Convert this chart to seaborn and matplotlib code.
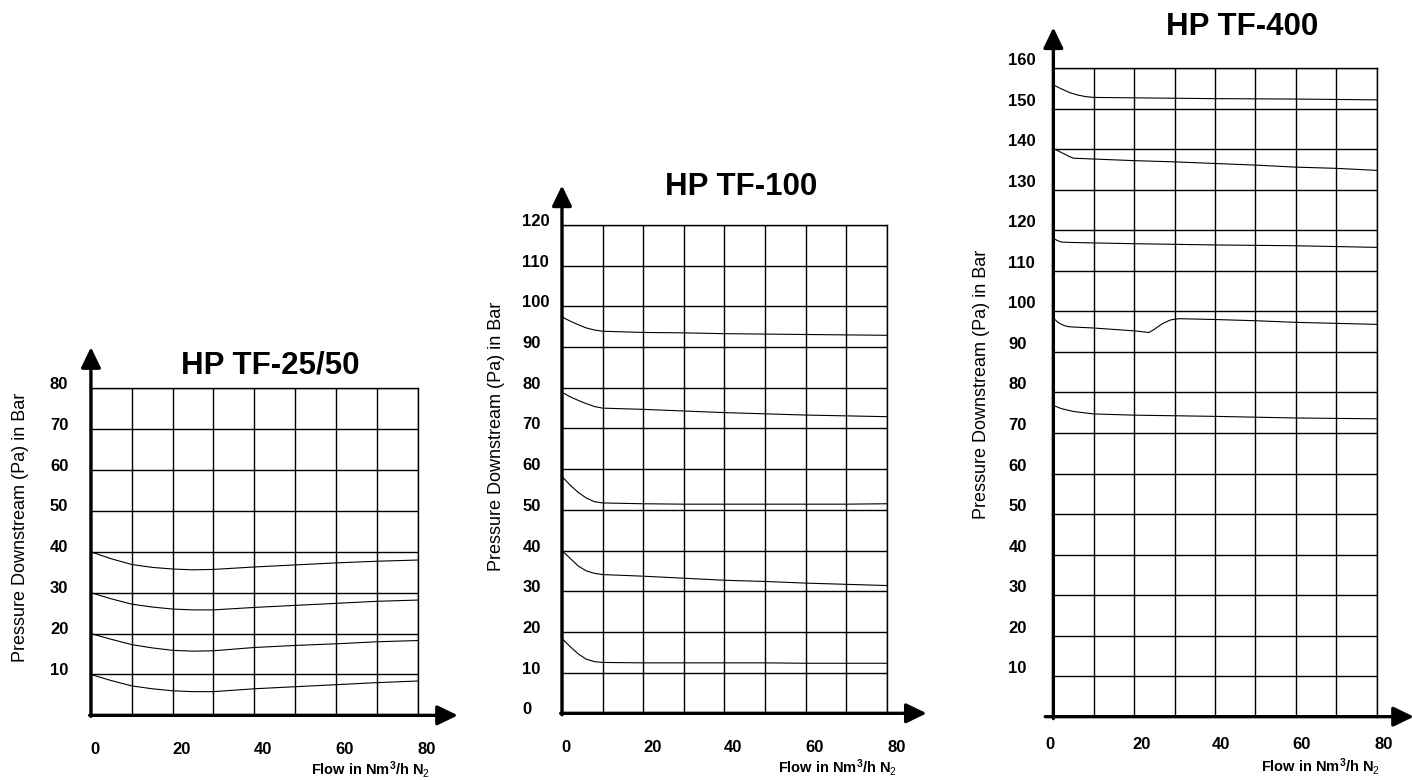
import numpy as np
import pandas as pd
import matplotlib
matplotlib.use("Agg")
import matplotlib.pyplot as plt
import seaborn as sns
from matplotlib.transforms import ScaledTranslation

# ---- data ----
# HP TF-25/50
tf25_flow = [0, 5, 10, 15, 20, 25, 30, 40, 50, 60, 70, 80]
tf25_p40 = [40.0, 38.3, 36.9, 36.2, 35.8, 35.6, 35.7, 36.3, 36.8, 37.3, 37.7, 38.0]
tf25_p30 = [30.0, 28.5, 27.2, 26.5, 26.0, 25.8, 25.8, 26.4, 26.9, 27.4, 27.9, 28.2]
tf25_p20 = [20.0, 18.6, 17.3, 16.5, 15.9, 15.7, 15.8, 16.6, 17.1, 17.5, 18.0, 18.3]
tf25_p10 = [10.0, 8.5, 7.2, 6.5, 6.0, 5.8, 5.8, 6.5, 7.0, 7.5, 8.0, 8.4]
tf25_yticks = [10, 20, 30, 40, 50, 60, 70, 80]

# HP TF-100
tf100_flow = [0, 2, 4, 6, 8, 10, 20, 30, 40, 50, 60, 70, 80]
tf100_p97 = [97.4, 96.4, 95.5, 94.7, 94.2, 93.9, 93.6, 93.5, 93.3, 93.2, 93.1, 93.0, 92.9]
tf100_p79 = [78.9, 77.8, 76.9, 76.1, 75.4, 75.0, 74.7, 74.3, 73.9, 73.6, 73.3, 73.1, 72.9]
tf100_p58 = [58.2, 56.1, 54.3, 52.9, 52.0, 51.7, 51.5, 51.4, 51.4, 51.4, 51.4, 51.4, 51.5]
tf100_p40 = [40.0, 38.1, 36.2, 35.0, 34.4, 34.1, 33.7, 33.2, 32.7, 32.4, 32.0, 31.7, 31.4]
tf100_p18 = [18.4, 16.4, 14.6, 13.3, 12.7, 12.5, 12.4, 12.4, 12.4, 12.4, 12.3, 12.3, 12.3]
tf100_yticks = [0, 10, 20, 30, 40, 50, 60, 70, 80, 90, 100, 110, 120]

# HP TF-400
tf400_flow_a = [0, 2, 4, 6, 8, 10, 20, 40, 60, 80]
tf400_p156 = [155.9, 154.9, 154.0, 153.4, 153.0, 152.8, 152.7, 152.5, 152.4, 152.2]
tf400_flow_b = [0, 2, 4, 5, 10, 20, 30, 40, 50, 60, 70, 80]
tf400_p140 = [140.2, 139.2, 138.2, 137.8, 137.6, 137.2, 136.9, 136.5, 136.1, 135.6, 135.3, 134.8]
tf400_flow_c = [0, 1, 2, 5, 10, 20, 40, 60, 80]
tf400_p118 = [118.0, 117.5, 117.1, 117.0, 116.9, 116.7, 116.4, 116.2, 115.8]
tf400_flow_d = [0, 1, 2, 3, 4, 10, 20, 23.7, 25, 27, 29, 31, 40, 50, 60, 80]
tf400_p98 = [98.4, 97.4, 96.8, 96.4, 96.2, 95.9, 95.2, 94.8, 95.6, 97.0, 97.9, 98.2, 98.0, 97.7, 97.3, 96.8]
tf400_flow_e = [0, 2, 5, 10, 20, 40, 60, 80]
tf400_p77 = [76.8, 76.0, 75.3, 74.7, 74.4, 74.1, 73.7, 73.5]
tf400_yticks = [10, 20, 30, 40, 50, 60, 70, 80, 90, 100, 110, 120, 130, 140, 150, 160]

x_ticks = [0, 20, 40, 60, 80]


def long_frame(curves):
    parts = []
    for name, (flow, pres) in curves.items():
        parts.append(pd.DataFrame({"flow": flow, "pressure": pres, "curve": name}))
    return pd.concat(parts, ignore_index=True)


tf25 = long_frame({"40": (tf25_flow, tf25_p40), "30": (tf25_flow, tf25_p30),
                   "20": (tf25_flow, tf25_p20), "10": (tf25_flow, tf25_p10)})
tf100 = long_frame({"97": (tf100_flow, tf100_p97), "79": (tf100_flow, tf100_p79),
                    "58": (tf100_flow, tf100_p58), "40": (tf100_flow, tf100_p40),
                    "18": (tf100_flow, tf100_p18)})
tf400 = long_frame({"156": (tf400_flow_a, tf400_p156), "140": (tf400_flow_b, tf400_p140),
                    "118": (tf400_flow_c, tf400_p118), "98": (tf400_flow_d, tf400_p98),
                    "77": (tf400_flow_e, tf400_p77)})

sns.set_style("white")
plt.rcParams["font.family"] = ["Liberation Sans", "DejaVu Sans"]
plt.rcParams["text.color"] = "black"
plt.rcParams["axes.labelcolor"] = "black"
plt.rcParams["xtick.color"] = "black"
plt.rcParams["ytick.color"] = "black"
plt.rcParams["mathtext.fontset"] = "custom"
plt.rcParams["mathtext.rm"] = "Liberation Sans"
plt.rcParams["mathtext.it"] = "Liberation Sans"
plt.rcParams["mathtext.bf"] = "Liberation Sans:bold"

fig = plt.figure(figsize=(14.12, 7.8), dpi=100)


def px(dx, dy):
    return ScaledTranslation(dx / 100, dy / 100, fig.dpi_scale_trans)


def draw_chart(rect, df, title, ymax, yticks, cfg):
    ax = fig.add_axes(rect)
    sns.lineplot(data=df, x="flow", y="pressure", units="curve", estimator=None,
                 color="black", lw=0.8, ax=ax, sort=False)
    ax.set_xlim(0, 80)
    ax.set_ylim(0, ymax)

    # grid every 10 units
    ax.set_xticks(x_ticks)
    ax.set_xticks(np.arange(10, 80, 20), minor=True)
    ax.set_yticks(np.arange(0, ymax + 1, 10))
    ax.set_yticklabels([str(v) if v in yticks else "" for v in np.arange(0, ymax + 1, 10)])
    ax.grid(True, which="both", color="black", lw=1.0)
    ax.set_axisbelow(True)

    ax.tick_params(axis="both", which="both", length=0, colors="black")
    ax.tick_params(axis="y", pad=cfg["ypad"], labelsize=12)
    ax.tick_params(axis="x", pad=cfg["xpad"], labelsize=12)
    for lab in ax.get_yticklabels():
        lab.set_fontweight("bold")
        lab.set_horizontalalignment("left")
        lab.set_transform(lab.get_transform() + px(0, cfg["ylab_up"]))
    for lab, dx in zip(ax.get_xticklabels(), cfg["xlab_dx"]):
        lab.set_fontweight("bold")
        lab.set_transform(lab.get_transform() + px(dx, 0))

    for side in ["left", "bottom"]:
        ax.spines[side].set_visible(False)
    for side in ["top", "right"]:
        ax.spines[side].set_color("black")
        ax.spines[side].set_linewidth(1.0)

    arrow = dict(arrowstyle="-|>,head_length=0.62,head_width=0.3", color="black",
                 lw=2.4, shrinkA=0, shrinkB=0, mutation_scale=20)
    ax.annotate("", xy=(0, cfg["top_tip"]), xytext=(0, -0.003), xycoords="axes fraction",
                arrowprops=arrow, annotation_clip=False)
    ax.annotate("", xy=(cfg["right_tip"], 0), xytext=(cfg["x_start"], 0),
                xycoords="axes fraction", arrowprops=arrow, annotation_clip=False)

    ax.set_xlabel("")
    ax.set_ylabel("")
    ax.text(cfg["title_xy"][0], cfg["title_xy"][1], title, transform=ax.transAxes,
            ha="center", va="center", fontsize=22.5, fontweight="bold", color="black")
    ax.text(cfg["ylabel_xy"][0], cfg["ylabel_xy"][1], "Pressure Downstream (Pa) in Bar",
            transform=ax.transAxes, rotation=90, ha="center", va="center", fontsize=13,
            color="black")
    ax.text(cfg["xlabel_xy"][0], cfg["xlabel_xy"][1], r"Flow in Nm$^{\mathbf{3}}$/h N$_2$",
            transform=ax.transAxes, ha="right", va="center", fontsize=10.5, fontweight="bold",
            color="black")
    return ax


draw_chart([0.0644, 0.0829, 0.2314, 0.4192], tf25, "HP TF-25/50", 80, tf25_yticks,
           dict(ypad=29.5, xpad=19, ylab_up=5.5, xlab_dx=[4, 9, 9, 9, 9.5],
                top_tip=1.126, right_tip=1.123, x_start=-0.004,
                title_xy=(0.548, 1.071), ylabel_xy=(-0.217, 0.574), xlabel_xy=(1.038, -0.166)))

draw_chart([0.3980, 0.0855, 0.2300, 0.6260], tf100, "HP TF-100", 120, tf100_yticks,
           dict(ypad=28.6, xpad=19, ylab_up=5, xlab_dx=[4, 9, 9, 9, 9.5],
                top_tip=1.081, right_tip=1.123, x_start=-0.004,
                title_xy=(0.553, 1.077), ylabel_xy=(-0.201, 0.568), xlabel_xy=(1.031, -0.111)))

draw_chart([0.7460, 0.0812, 0.2290, 0.8313], tf400, "HP TF-400", 160, tf400_yticks,
           dict(ypad=32.4, xpad=15, ylab_up=9, xlab_dx=[-3, 7, 6, 6, 6.5],
                top_tip=1.063, right_tip=1.115, x_start=-0.025,
                title_xy=(0.583, 1.063), ylabel_xy=(-0.221, 0.513), xlabel_xy=(1.010, -0.077)))

fig.savefig("out.png", dpi=100, facecolor="white")
